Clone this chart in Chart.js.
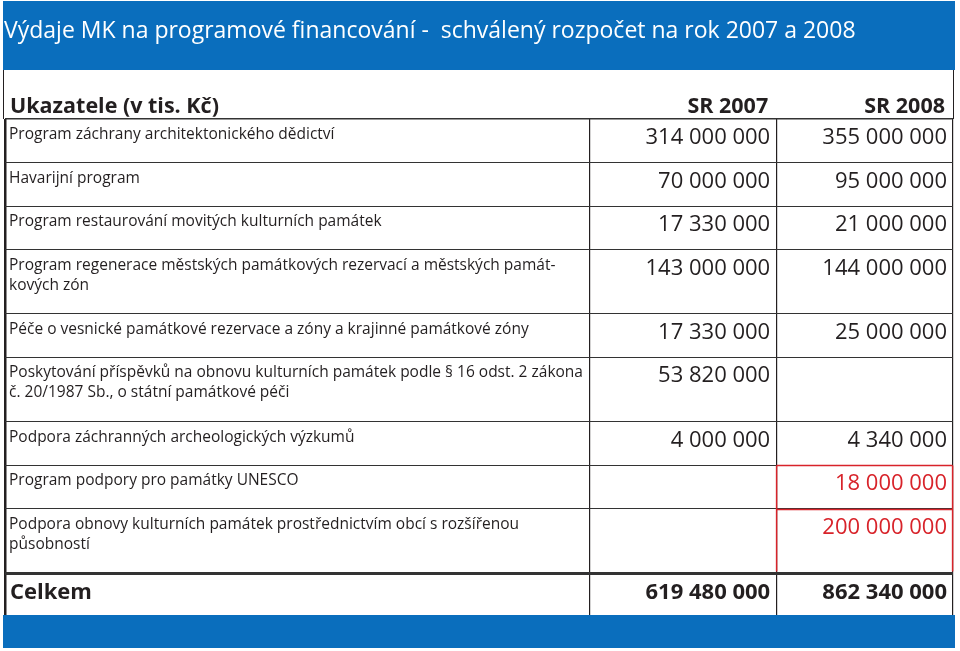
<!DOCTYPE html>
<html lang="cs">
<head>
<meta charset="utf-8">
<title>Výdaje MK na programové financování</title>
<script src="https://cdn.jsdelivr.net/npm/chart.js@4"></script>
<style>
  html, body { margin: 0; padding: 0; background: #fff; }
  canvas { display: block; }
</style>
</head>
<body>
<canvas id="tabulka" width="960" height="651"></canvas>
<script>
const rowLabels = [
    'Program záchrany architektonického dědictví',
    'Havarijní program',
    'Program restaurování movitých kulturních památek',
    'Program regenerace městských památkových rezervací a městských památ-\nkových zón',
    'Péče o vesnické památkové rezervace a zóny a krajinné památkové zóny',
    'Poskytování příspěvků na obnovu kulturních památek podle § 16 odst. 2 zákona\nč. 20/1987 Sb., o státní památkové péči',
    'Podpora záchranných archeologických výzkumů',
    'Program podpory pro památky UNESCO',
    'Podpora obnovy kulturních památek prostřednictvím obcí s rozšířenou\npůsobností'
];
const columnLabels = ['Ukazatele (v tis. Kč)', 'SR 2007', 'SR 2008'];
const sr2007 = [314000000, 70000000, 17330000, 143000000, 17330000, 53820000, 4000000, null, null];
const sr2008 = [355000000, 95000000, 21000000, 144000000, 25000000, null, 4340000, 18000000, 200000000];
const totalLabel = 'Celkem';
const totals = [619480000, 862340000];

// layout + style
const BLUE = '#0a6ebd';
const INK = '#231f20';
const RED = '#d8232a';
const FONT = "'Open Sans', sans-serif";
const colWidths = [585, 187, 177];
const redRows = [7, 8]; // nové položky 2008 orámované červeně

const colEdges = [0];
colWidths.forEach(w => colEdges.push(colEdges[colEdges.length - 1] + w));

// row height from number of text lines, total row a bit lower
const rowUnits = rowLabels.map(l => 1 + 0.48 * (l.split('\n').length - 1));
rowUnits.push(0.96);
const rowEdges = [0];
rowUnits.forEach(u => rowEdges.push(rowEdges[rowEdges.length - 1] + u));

const fmt = v => String(v).replace(/\B(?=(\d{3})+(?!\d))/g, ' ');

const tablePlugin = {
    id: 'tablePlugin',
    beforeDraw(chart) {
        const ctx = chart.ctx;
        const area = chart.chartArea;
        ctx.save();
        ctx.fillStyle = BLUE;
        ctx.fillRect(3, 1, 952, 69);
        ctx.fillRect(3, area.bottom, 952, 33);
        ctx.strokeStyle = INK;
        ctx.lineWidth = 1;
        ctx.beginPath();
        ctx.moveTo(3.5, 70); ctx.lineTo(3.5, area.top);
        ctx.moveTo(953.5, 70); ctx.lineTo(953.5, area.top);
        ctx.stroke();
        ctx.restore();
    },
    afterDraw(chart) {
        const ctx = chart.ctx;
        const x = chart.scales.x, y = chart.scales.y;
        const colL = i => x.getPixelForValue(colEdges[i]);
        const colR = i => x.getPixelForValue(colEdges[i + 1]);
        const rowT = i => y.getPixelForValue(rowEdges[i]);
        const vals = chart.data.datasets.map(d => d.data);
        ctx.save();

        // red outline of new 2008 items, drawn over the grid lines
        ctx.strokeStyle = RED;
        ctx.lineWidth = 1.5;
        const l = Math.round(colL(2) - 0.6) + 0.6, rr = Math.round(colR(2) - 0.6) + 0.6;
        const first = redRows[0], last = redRows[redRows.length - 1];
        const bottom = Math.round(rowT(last + 1)) - 1.5;
        ctx.beginPath();
        redRows.forEach(r => {
            const t = Math.round(rowT(r)) + 0.5;
            ctx.moveTo(l, t); ctx.lineTo(rr, t);
        });
        ctx.moveTo(l, Math.round(rowT(first)) + 0.5); ctx.lineTo(l, bottom);
        ctx.moveTo(rr, Math.round(rowT(first)) + 0.5); ctx.lineTo(rr, bottom);
        ctx.stroke();

        // header row
        ctx.fillStyle = INK;
        ctx.textBaseline = 'alphabetic';
        ctx.font = `bold 21.5px ${FONT}`;
        ctx.textAlign = 'left';
        ctx.fillText(columnLabels[0], colL(0) + 5, rowT(0) - 6);
        ctx.textAlign = 'right';
        ctx.fillText(columnLabels[1], colR(1) - 8, rowT(0) - 6);
        ctx.fillText(columnLabels[2], colR(2) - 8, rowT(0) - 6);

        // body rows
        rowLabels.forEach((label, i) => {
            const top = rowT(i);
            ctx.fillStyle = INK;
            ctx.textAlign = 'left';
            ctx.font = `15.5px ${FONT}`;
            label.split('\n').forEach((line, k) => {
                ctx.fillText(line, colL(0) + 4, top + 20 + k * 20);
            });
            ctx.textAlign = 'right';
            ctx.font = `22px ${FONT}`;
            vals.forEach((series, c) => {
                if (series[i] == null) return;
                ctx.fillStyle = (c === 1 && redRows.includes(i)) ? RED : INK;
                ctx.fillText(fmt(series[i]), colR(c + 1) - 6, top + 25);
            });
        });

        // total row
        const tt = rowT(rowLabels.length);
        ctx.fillStyle = INK;
        ctx.font = `bold 22px ${FONT}`;
        ctx.textAlign = 'left';
        ctx.fillText(totalLabel, colL(0) + 5, tt + 26);
        ctx.textAlign = 'right';
        totals.forEach((v, c) => ctx.fillText(fmt(v), colR(c + 1) - 6, tt + 26));
        ctx.restore();
    }
};

const config = {
    type: 'line',
    data: {
        labels: rowLabels,
        datasets: [
            { label: 'SR 2007', data: sr2007, hidden: true },
            { label: 'SR 2008', data: sr2008, hidden: true }
        ]
    },
    options: {
        responsive: false,
        animation: false,
        events: [],
        layout: { padding: { left: 4, right: 7, top: 0, bottom: 36 } },
        scales: {
            x: {
                type: 'linear',
                min: 0,
                max: colEdges[colEdges.length - 1],
                bounds: 'data',
                afterBuildTicks: s => { s.ticks = colEdges.map(v => ({ value: v })); },
                ticks: { display: false },
                border: { display: false },
                grid: {
                    drawTicks: false,
                    color: INK,
                    lineWidth: c => c.index === 0 ? 2.5 : 1.2
                }
            },
            y: {
                type: 'linear',
                reverse: true,
                min: 0,
                max: rowEdges[rowEdges.length - 1],
                bounds: 'data',
                afterBuildTicks: s => { s.ticks = rowEdges.map(v => ({ value: v })); },
                ticks: { display: false },
                border: { display: false },
                grid: {
                    drawTicks: false,
                    color: c => c.index === rowEdges.length - 1 ? 'rgba(0,0,0,0)' : '#333',
                    lineWidth: c => c.index === rowEdges.length - 2 ? 3 : (c.index === 0 ? 1.5 : 1)
                }
            }
        },
        plugins: {
            legend: { display: false },
            tooltip: { enabled: false },
            title: {
                display: true,
                text: 'Výdaje MK na programové financování -  schválený rozpočet na rok 2007 a 2008',
                align: 'start',
                color: '#fff',
                font: { family: FONT, size: 23, weight: 'normal' },
                padding: { top: 18, bottom: 73.4 }
            }
        }
    },
    plugins: [tablePlugin]
};

const tabulka = new Chart(document.getElementById('tabulka'), config);
</script>
</body>
</html>
